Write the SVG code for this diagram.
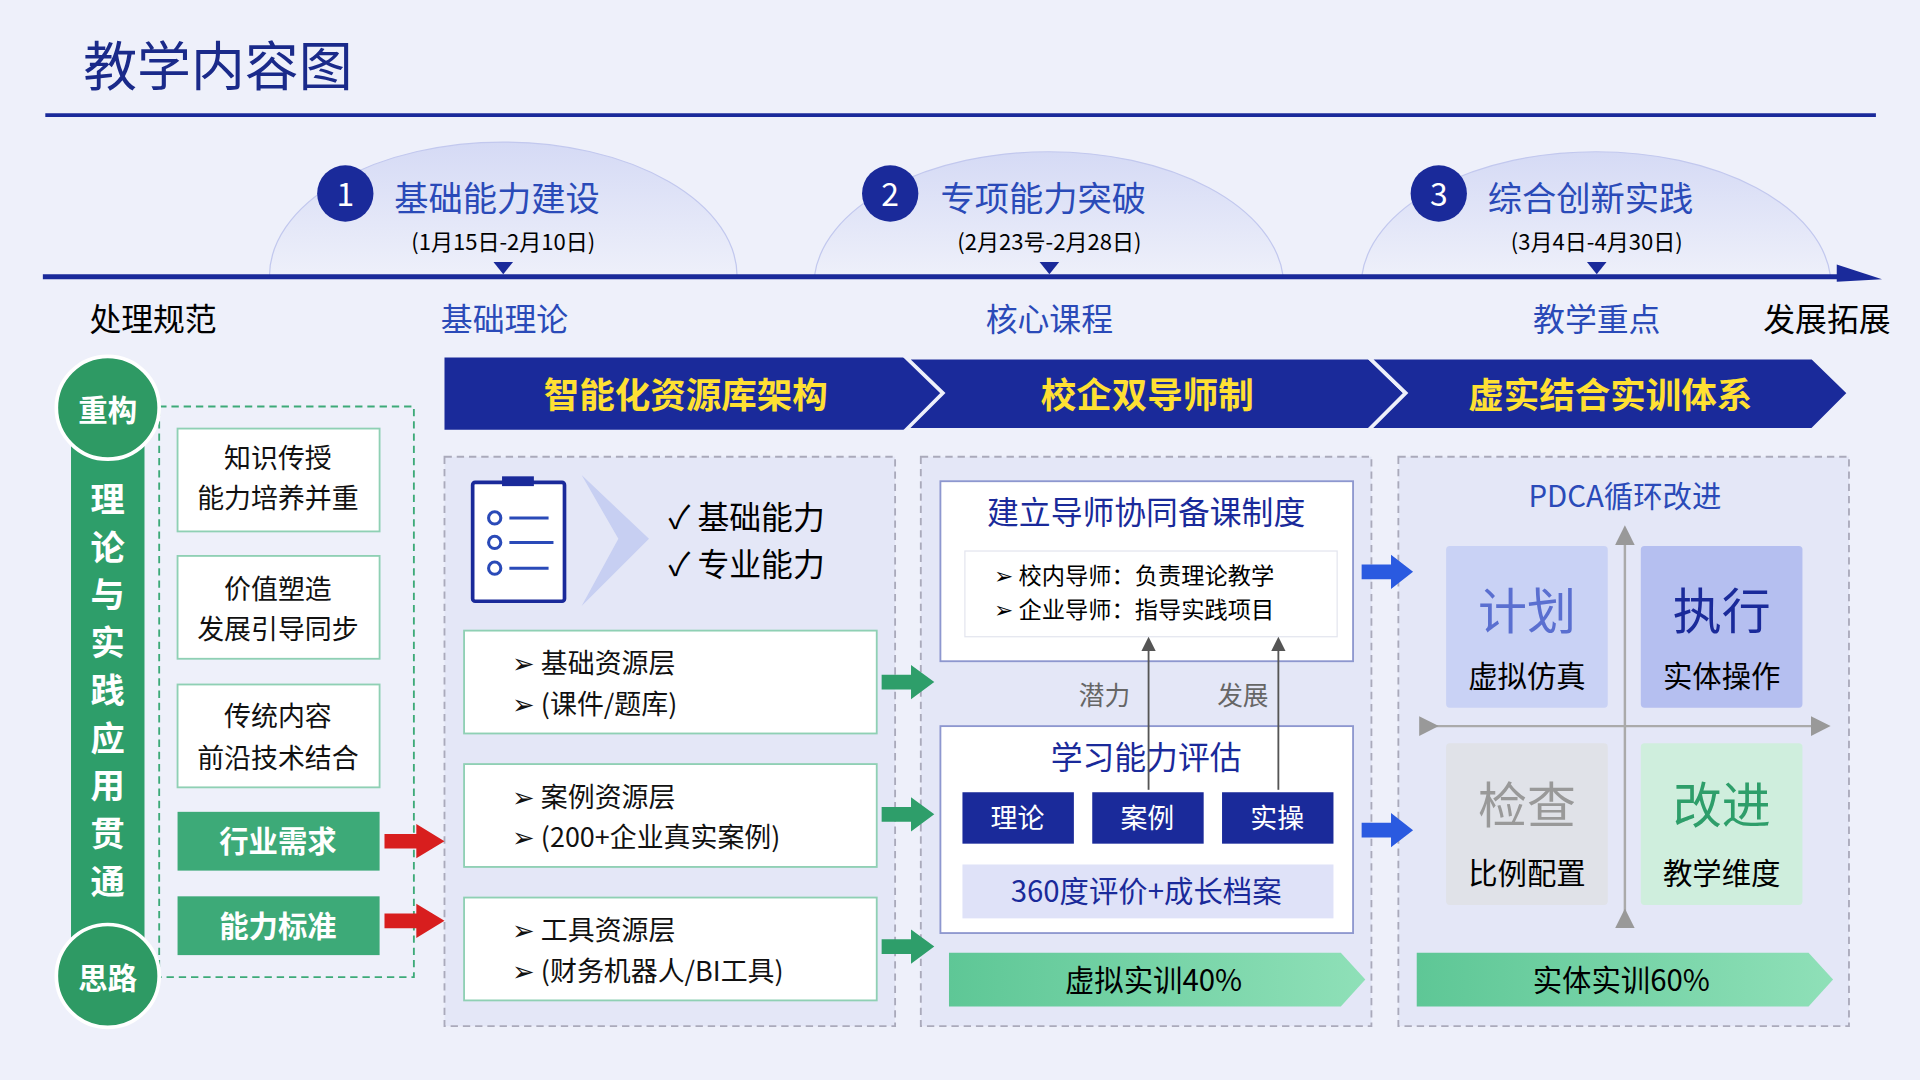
<svg xmlns="http://www.w3.org/2000/svg" width="1920" height="1080" viewBox="0 0 1920 1080">
<defs>
<style>
text{font-family:"Noto Sans CJK SC","Liberation Sans",sans-serif}
.c{text-anchor:middle}
.nav{fill:#1a2a9a}
.lbl{font-size:26px}
.bx{fill:#fff;stroke:#8fd0b4;stroke-width:1.5}
.gb{fill:#3daa78}
.wt{fill:#fff;font-weight:bold}
.bl{font-size:22px;fill:#111}
.pan{fill:#e4e7f7;stroke:#aab;stroke-width:1.5;stroke-dasharray:6 4}
</style>
<linearGradient id="dome" x1="0" y1="0" x2="0" y2="1"><stop offset="0" stop-color="#d5daf5"/><stop offset="1" stop-color="#eef0fa"/></linearGradient>
<linearGradient id="gg" x1="0" y1="0" x2="1" y2="0"><stop offset="0" stop-color="#5ec796"/><stop offset="1" stop-color="#8fe0b8"/></linearGradient>
<marker id="ah" markerWidth="8" markerHeight="8" refX="4" refY="4" orient="auto"><path d="M0,0L8,4L0,8Z" fill="#999"/></marker>
<marker id="ah2" markerWidth="8" markerHeight="8" refX="4" refY="4" orient="auto"><path d="M0,0L8,4L0,8Z" fill="#555"/></marker>
</defs>
<rect width="1920" height="1080" fill="#eef0fa"/>
<g transform="scale(1.22449)">
<text x="68" y="70" font-size="44" fill="#1a2a8a">教学内容图</text>
<line x1="37" y1="94" x2="1532" y2="94" stroke="#1a2a9a" stroke-width="3"/>
<g id="timeline">
<path d="M220,226 A191,110 0 0 1 602,226Z" fill="url(#dome)" stroke="#c2c8ee"/>
<path d="M665,226 A192,110 0 0 1 1048,226Z" fill="url(#dome)" stroke="#c2c8ee"/>
<path d="M1112,226 A192,110 0 0 1 1495,226Z" fill="url(#dome)" stroke="#c2c8ee"/>
<line x1="35" y1="226" x2="1505" y2="226" stroke="#1a2a9a" stroke-width="4"/>
<path d="M1500,216 L1537,228 L1500,230Z" class="nav"/>
<circle cx="282" cy="158" r="23" class="nav"/><text x="282" y="168" class="c" font-size="26" fill="#fff">1</text>
<text x="322" y="172" font-size="28" fill="#2a4ab8">基础能力建设</text>
<text x="411" y="204" class="c" font-size="18">(1月15日-2月10日)</text>
<path d="M403,214 L419,214 L411,224Z" class="nav"/>
<circle cx="727" cy="158" r="23" class="nav"/><text x="727" y="168" class="c" font-size="26" fill="#fff">2</text>
<text x="768" y="172" font-size="28" fill="#2a4ab8">专项能力突破</text>
<text x="857" y="204" class="c" font-size="18">(2月23号-2月28日)</text>
<path d="M849,214 L865,214 L857,224Z" class="nav"/>
<circle cx="1175" cy="158" r="23" class="nav"/><text x="1175" y="168" class="c" font-size="26" fill="#fff">3</text>
<text x="1215" y="172" font-size="28" fill="#2a4ab8">综合创新实践</text>
<text x="1304" y="204" class="c" font-size="18">(3月4日-4月30日)</text>
<path d="M1296,214 L1312,214 L1304,224Z" class="nav"/>
<text x="73" y="270" class="lbl">处理规范</text>
<text x="360" y="270" class="lbl" fill="#2a4ab8">基础理论</text>
<text x="805" y="270" class="lbl" fill="#2a4ab8">核心课程</text>
<text x="1252" y="270" class="lbl" fill="#2a4ab8">教学重点</text>
<text x="1440" y="270" class="lbl">发展拓展</text>
</g>
<g id="left">
<rect x="130" y="332" width="208" height="466" fill="none" stroke="#3daa78" stroke-width="1.5" stroke-dasharray="6 4"/>
<rect x="58" y="330" width="60" height="470" fill="#2e9e6a"/>
<circle cx="88" cy="333" r="42" fill="#2e9a64" stroke="#fff" stroke-width="3"/>
<text x="88" y="344" class="c wt" font-size="24">重构</text>
<circle cx="88" cy="797" r="42" fill="#2e9a64" stroke="#fff" stroke-width="3"/>
<text x="88" y="808" class="c wt" font-size="24">思路</text>
<g class="wt" font-size="28" text-anchor="middle">
<text x="88" y="418">理</text><text x="88" y="457">论</text><text x="88" y="496">与</text><text x="88" y="535">实</text><text x="88" y="574">践</text><text x="88" y="613">应</text><text x="88" y="652">用</text><text x="88" y="691">贯</text><text x="88" y="730">通</text>
</g>
<rect x="145" y="350" width="165" height="84" class="bx"/>
<text x="227" y="382" class="c bl">知识传授</text><text x="227" y="415" class="c bl">能力培养并重</text>
<rect x="145" y="454" width="165" height="84" class="bx"/>
<text x="227" y="489" class="c bl">价值塑造</text><text x="227" y="522" class="c bl">发展引导同步</text>
<rect x="145" y="559" width="165" height="84" class="bx"/>
<text x="227" y="593" class="c bl">传统内容</text><text x="227" y="627" class="c bl">前沿技术结合</text>
<rect x="145" y="663" width="165" height="48" class="gb"/>
<text x="227" y="696" class="c wt" font-size="24">行业需求</text>
<rect x="145" y="732" width="165" height="48" class="gb"/>
<text x="227" y="765" class="c wt" font-size="24">能力标准</text>
</g>
<g id="banners">
<path d="M363,292 L740,292 L770,321 L740,351 L363,351Z" class="nav"/>
<path d="M740,292 L1118,292 L1148,321 L1118,351 L740,351 L770,321Z" class="nav" stroke="#eef0fa" stroke-width="3"/>
<path d="M1118,292 L1480,292 L1510,321 L1480,351 L1118,351 L1148,321Z" class="nav" stroke="#eef0fa" stroke-width="3"/>
<g fill="#ffe033" font-weight="bold" font-size="29" text-anchor="middle">
<text x="560" y="333">智能化资源库架构</text><text x="937" y="333">校企双导师制</text><text x="1315" y="333">虚实结合实训体系</text>
</g>
</g>
<g id="panel1">
<rect x="363" y="373" width="368" height="465" class="pan"/>
<rect x="386" y="394" width="75" height="97" fill="#fff" stroke="#1a2a9a" stroke-width="3" rx="2"/>
<rect x="410" y="389" width="26" height="8" class="nav"/>
<g stroke="#2a4ab8" stroke-width="2.5" fill="none">
<circle cx="404" cy="423" r="5"/><line x1="416" y1="423" x2="448" y2="423"/>
<circle cx="404" cy="443" r="5"/><line x1="416" y1="443" x2="452" y2="443"/>
<circle cx="404" cy="464" r="5"/><line x1="416" y1="464" x2="448" y2="464"/>
</g>
<path d="M475,388 L530,440 L475,495 L505,440Z" fill="#c7cff2"/>
<text x="546" y="432" font-size="26">✓  基础能力</text>
<text x="546" y="470" font-size="26">✓  专业能力</text>
<rect x="379" y="515" width="337" height="84" class="bx"/>
<text x="418" y="550" class="bl">➢  基础资源层</text><text x="418" y="583" class="bl">➢  (课件/题库)</text>
<rect x="379" y="624" width="337" height="84" class="bx"/>
<text x="418" y="659" class="bl">➢  案例资源层</text><text x="418" y="692" class="bl">➢  (200+企业真实案例)</text>
<rect x="379" y="733" width="337" height="84" class="bx"/>
<text x="418" y="768" class="bl">➢  工具资源层</text><text x="418" y="801" class="bl">➢  (财务机器人/BI工具)</text>
</g>
<g id="panel2">
<rect x="752" y="373" width="368" height="465" class="pan"/>
<rect x="768" y="393" width="337" height="147" fill="#fff" stroke="#8d97cf" stroke-width="1.5"/>
<text x="936" y="428" class="c" font-size="26" fill="#1a2a9a">建立导师协同备课制度</text>
<rect x="788" y="450" width="304" height="70" fill="#fff" stroke="#e3e5ee"/>
<text x="812" y="477" font-size="19">➢   校内导师：负责理论教学</text>
<text x="812" y="505" font-size="19">➢   企业导师：指导实践项目</text>
<text x="902" y="576" class="c" font-size="21" fill="#666">潜力</text>
<text x="1015" y="576" class="c" font-size="21" fill="#666">发展</text>
<rect x="768" y="593" width="337" height="169" fill="#fff" stroke="#8d97cf" stroke-width="1.5"/>
<text x="936" y="628" class="c" font-size="26" fill="#1a2a9a">学习能力评估</text>
<rect x="786" y="647" width="91" height="42" class="nav"/><text x="831" y="676" class="c" font-size="22" fill="#fff">理论</text>
<rect x="892" y="647" width="91" height="42" class="nav"/><text x="937" y="676" class="c" font-size="22" fill="#fff">案例</text>
<rect x="998" y="647" width="91" height="42" class="nav"/><text x="1043" y="676" class="c" font-size="22" fill="#fff">实操</text>
<rect x="786" y="706" width="303" height="44" fill="#dfe2f8"/>
<text x="936" y="737" class="c" font-size="24" fill="#1a2a9a">360度评价+成长档案</text>
<path d="M775,778 L1095,778 L1115,800 L1095,822 L775,822Z" fill="url(#gg)"/>
<text x="942" y="809" class="c" font-size="24">虚拟实训40%</text>
</g>
<g id="panel3">
<rect x="1142" y="373" width="368" height="465" class="pan"/>
<text x="1327" y="414" class="c" font-size="24" fill="#2a4ab8">PDCA循环改进</text>
<rect x="1181" y="446" width="132" height="132" fill="#c9d2f5" rx="3"/>
<text x="1247" y="514" class="c" font-size="40" fill="#5a6fd0">计划</text><text x="1247" y="561" class="c" font-size="24">虚拟仿真</text>
<rect x="1340" y="446" width="132" height="132" fill="#b5bff0" rx="3"/>
<text x="1406" y="514" class="c" font-size="40" fill="#1a2a9a">执行</text><text x="1406" y="561" class="c" font-size="24">实体操作</text>
<rect x="1181" y="607" width="132" height="132" fill="#e0e2e8" rx="3"/>
<text x="1247" y="672" class="c" font-size="40" fill="#999">检查</text><text x="1247" y="722" class="c" font-size="24">比例配置</text>
<rect x="1340" y="607" width="132" height="132" fill="#cfeedd" rx="3"/>
<text x="1406" y="672" class="c" font-size="40" fill="#2e9e6a">改进</text><text x="1406" y="722" class="c" font-size="24">教学维度</text>
<path d="M1157,778 L1477,778 L1497,800 L1477,822 L1157,822Z" fill="url(#gg)"/>
<text x="1324" y="809" class="c" font-size="24">实体实训60%</text>
</g>
<g id="connectors">
<line x1="1327" y1="750" x2="1327" y2="437" stroke="#aaa" stroke-width="2" marker-end="url(#ah)" marker-start="url(#ah)"/>
<line x1="1167" y1="593" x2="1487" y2="593" stroke="#aaa" stroke-width="2" marker-end="url(#ah)" marker-start="url(#ah)"/>
<line x1="938" y1="645" x2="938" y2="526" stroke="#555" stroke-width="1.5" marker-end="url(#ah2)"/>
<line x1="1044" y1="645" x2="1044" y2="526" stroke="#555" stroke-width="1.5" marker-end="url(#ah2)"/>
<g fill="#d81e1e">
<path d="M314,681 L340,681 L340,673 L363,687 L340,701 L340,693 L314,693Z"/>
<path d="M314,746 L340,746 L340,738 L363,752 L340,766 L340,758 L314,758Z"/>
</g>
<g fill="#2e9e6a">
<path d="M720,551 L744,551 L744,543 L763,557 L744,571 L744,563 L720,563Z"/>
<path d="M720,659 L744,659 L744,651 L763,665 L744,679 L744,671 L720,671Z"/>
<path d="M720,767 L744,767 L744,759 L763,773 L744,787 L744,779 L720,779Z"/>
</g>
<g fill="#2a5ae0">
<path d="M1112,461 L1136,461 L1136,453 L1154,467 L1136,481 L1136,473 L1112,473Z"/>
<path d="M1112,672 L1136,672 L1136,664 L1154,678 L1136,692 L1136,684 L1112,684Z"/>
</g>
</g>
</g>
</svg>
